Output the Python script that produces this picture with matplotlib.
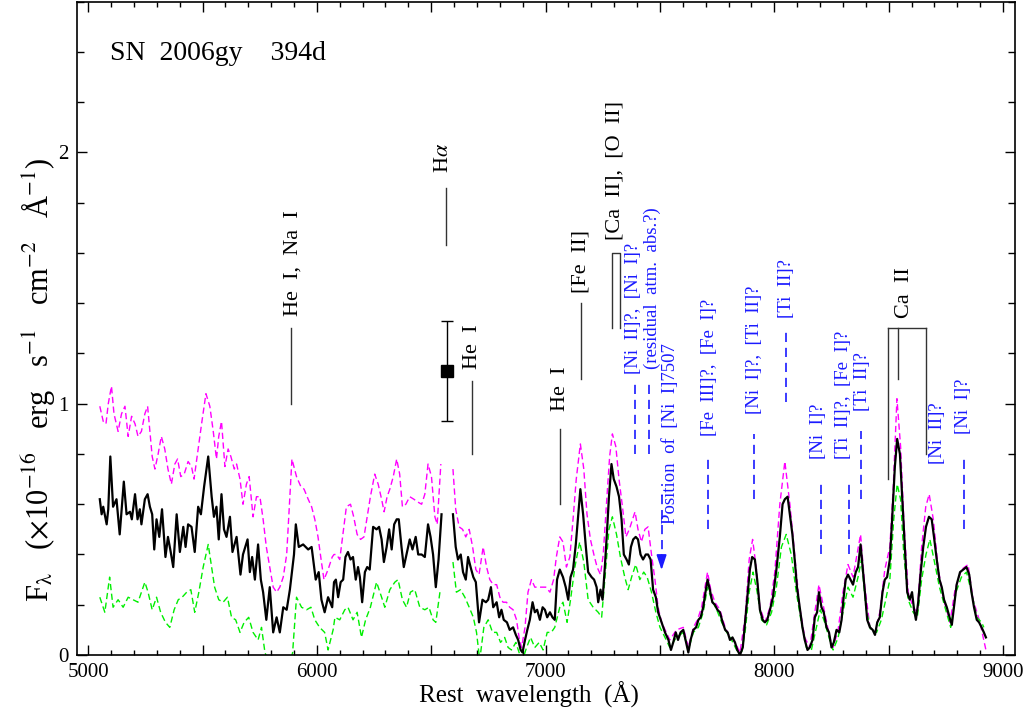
import numpy as np
import matplotlib
matplotlib.use("Agg")
import matplotlib.pyplot as plt
from matplotlib.ticker import MultipleLocator, FuncFormatter

plt.rcParams['font.family'] = ['Liberation Serif', 'DejaVu Serif']
plt.rcParams['mathtext.fontset'] = 'stix'

nan = np.nan

# ---------------- data: observed spectrum (black) ----------------
wave_obs = [5051, 5059, 5066, 5081, 5088, 5097, 5109, 5124, 5138, 5156, 5168, 5183, 5191, 5205, 5216, 5226,
            5233, 5248, 5260, 5270, 5280, 5289, 5299, 5311, 5323, 5338, 5349, 5361, 5372, 5387, 5401, 5416,
            5426, 5437, 5452, 5466, 5481, 5493, 5507, 5525, 5540, 5550, 5561, 5571, 5583, 5594, 5605, 5620,
            5631, 5649, 5666, 5677, 5697, 5707, 5717, 5729, 5743, 5755, 5765, 5779, 5794, 5809, 5824, 5838,
            5853, 5868, 5882, 5900, 5908, 5921, 5940, 5962, 5977, 5995, 6008, 6020, 6034, 6049, 6067, 6075,
            6083, 6093, 6104, 6115, 6125, 6136, 6147, 6158, 6170, 6180, 6188, 6198, 6210, 6220, 6231, 6246,
            6261, 6272, 6283, 6293, 6305, 6316, 6327, 6338, 6349, 6358, 6370, 6380, 6392, 6406, 6418, 6432,
            6443, 6458, 6472, 6486, 6497, 6508, 6520, 6532, 6545, 6570, 6595, 6607, 6617, 6629, 6639, 6651,
            6661, 6672, 6684, 6695, 6709, 6724, 6739, 6749, 6761, 6771, 6786, 6797, 6807, 6817, 6831, 6843,
            6858, 6870, 6880, 6891, 6899, 6910, 6920, 6931, 6943, 6953, 6963, 6975, 6987, 6997, 7007, 7019,
            7030, 7040, 7050, 7062, 7076, 7088, 7099, 7109, 7120, 7132, 7142, 7152, 7164, 7176, 7186, 7201,
            7212, 7223, 7230, 7240, 7249, 7259, 7269, 7277, 7288, 7298, 7310, 7321, 7332, 7342, 7354, 7364,
            7373, 7383, 7394, 7404, 7415, 7426, 7438, 7448, 7459, 7470, 7482, 7492, 7507, 7522, 7537, 7548,
            7558, 7569, 7579, 7590, 7602, 7614, 7624, 7634, 7646, 7658, 7668, 7678, 7689, 7699, 7708, 7718,
            7729, 7740, 7751, 7762, 7774, 7785, 7796, 7806, 7817, 7828, 7838, 7850, 7862, 7872, 7882, 7893,
            7903, 7915, 7925, 7937, 7949, 7959, 7969, 7981, 7994, 8009, 8024, 8036, 8046, 8058, 8068, 8079,
            8089, 8099, 8111, 8123, 8133, 8145, 8155, 8167, 8177, 8187, 8195, 8206, 8216, 8228, 8239, 8250,
            8260, 8272, 8284, 8294, 8303, 8312, 8322, 8333, 8344, 8356, 8366, 8377, 8385, 8396, 8406, 8418,
            8430, 8440, 8450, 8461, 8473, 8483, 8493, 8505, 8515, 8527, 8537, 8549, 8559, 8571, 8581, 8592,
            8602, 8611, 8619, 8629, 8640, 8651, 8663, 8676, 8688, 8698, 8710, 8722, 8732, 8742, 8754, 8766,
            8776, 8785, 8797, 8812, 8826, 8840, 8852, 8862, 8873, 8885, 8895, 8906, 8916, 8925]
flux_obs = [0.62, 0.56, 0.59, 0.52, 0.58, 0.79, 0.59, 0.62, 0.48, 0.69, 0.56, 0.57, 0.54, 0.64, 0.54, 0.58,
            0.52, 0.62, 0.64, 0.59, 0.56, 0.42, 0.54, 0.47, 0.58, 0.39, 0.47, 0.41, 0.35, 0.56, 0.41, 0.51,
            0.43, 0.52, 0.51, 0.41, 0.59, 0.56, 0.67, 0.79, 0.63, 0.55, 0.59, 0.46, 0.64, 0.50, 0.47, 0.55,
            0.41, 0.47, 0.32, 0.40, 0.46, 0.33, 0.39, 0.30, 0.44, 0.30, 0.25, 0.14, 0.27, 0.09, 0.15, 0.09,
            0.19, 0.18, 0.26, 0.40, 0.52, 0.43, 0.44, 0.42, 0.43, 0.30, 0.33, 0.22, 0.17, 0.23, 0.19, 0.29,
            0.30, 0.23, 0.29, 0.30, 0.39, 0.41, 0.38, 0.39, 0.30, 0.35, 0.31, 0.21, 0.33, 0.35, 0.34, 0.51,
            0.50, 0.51, 0.46, 0.37, 0.43, 0.50, 0.42, 0.52, 0.54, 0.54, 0.43, 0.35, 0.40, 0.46, 0.42, 0.47,
            0.40, 0.40, 0.39, 0.52, 0.47, 0.40, 0.27, 0.38, 0.56, nan, 0.56, 0.43, 0.38, 0.40, 0.33, 0.30,
            0.39, 0.35, 0.31, 0.29, 0.13, 0.22, 0.21, 0.22, 0.27, 0.19, 0.21, 0.15, 0.18, 0.14, 0.13, 0.10,
            0.11, 0.08, 0.06, 0.02, 0.01, 0.06, 0.10, 0.14, 0.21, 0.17, 0.18, 0.14, 0.19, 0.18, 0.15, 0.17,
            0.15, 0.14, 0.30, 0.34, 0.31, 0.27, 0.22, 0.31, 0.34, 0.44, 0.55, 0.66, 0.56, 0.43, 0.33, 0.31,
            0.30, 0.27, 0.21, 0.26, 0.22, 0.35, 0.50, 0.63, 0.76, 0.70, 0.67, 0.63, 0.54, 0.40, 0.38, 0.36,
            0.43, 0.46, 0.47, 0.46, 0.40, 0.38, 0.40, 0.40, 0.38, 0.26, 0.23, 0.17, 0.13, 0.09, 0.06, 0.02,
            0.05, 0.09, 0.06, 0.09, 0.10, 0.05, 0.01, 0.06, 0.10, 0.11, 0.14, 0.15, 0.19, 0.25, 0.30, 0.26,
            0.21, 0.20, 0.18, 0.17, 0.13, 0.10, 0.09, 0.06, 0.07, 0.05, 0.02, 0.00, 0.03, 0.13, 0.23, 0.34,
            0.39, 0.38, 0.30, 0.18, 0.14, 0.13, 0.14, 0.18, 0.23, 0.34, 0.47, 0.60, 0.62, 0.63, 0.56, 0.48,
            0.38, 0.27, 0.19, 0.11, 0.06, 0.02, 0.03, 0.06, 0.15, 0.17, 0.25, 0.19, 0.17, 0.11, 0.09, 0.03,
            0.05, 0.10, 0.09, 0.14, 0.23, 0.30, 0.32, 0.30, 0.28, 0.33, 0.35, 0.44, 0.36, 0.25, 0.14, 0.11,
            0.10, 0.08, 0.13, 0.15, 0.25, 0.30, 0.31, 0.38, 0.54, 0.75, 0.86, 0.80, 0.63, 0.43, 0.25, 0.22,
            0.25, 0.18, 0.14, 0.21, 0.33, 0.43, 0.51, 0.55, 0.54, 0.47, 0.38, 0.30, 0.27, 0.22, 0.19, 0.15,
            0.12, 0.19, 0.28, 0.33, 0.34, 0.35, 0.32, 0.25, 0.19, 0.14, 0.13, 0.11, 0.09, 0.07]

# ---------------- upper (magenta) curve ----------------
wave_hi = [5051, 5066, 5078, 5088, 5102, 5113, 5131, 5146, 5161, 5175, 5190, 5205, 5218, 5233, 5248, 5260,
           5270, 5280, 5292, 5306, 5320, 5335, 5349, 5364, 5379, 5391, 5405, 5420, 5437, 5452, 5463, 5478,
           5496, 5515, 5532, 5547, 5561, 5571, 5583, 5598, 5612, 5624, 5639, 5649, 5664, 5677, 5692, 5704,
           5721, 5736, 5751, 5765, 5779, 5794, 5809, 5824, 5838, 5853, 5868, 5882, 5891, 5911, 5930, 5944,
           5962, 5977, 5991, 6005, 6020, 6031, 6049, 6067, 6075, 6086, 6100, 6114, 6129, 6147, 6161, 6176,
           6191, 6206, 6220, 6234, 6253, 6268, 6283, 6294, 6307, 6319, 6334, 6349, 6362, 6374, 6389, 6406,
           6424, 6439, 6458, 6472, 6486, 6501, 6516, 6526, 6542, 6570, 6595, 6607, 6622, 6637, 6651, 6666,
           6681, 6695, 6709, 6727, 6742, 6756, 6771, 6786, 6800, 6814, 6829, 6843, 6858, 6873, 6884, 6895,
           6910, 6923, 6938, 6953, 6967, 6982, 7001, 7019, 7035, 7047, 7062, 7076, 7091, 7106, 7120, 7134,
           7152, 7167, 7181, 7196, 7211, 7225, 7240, 7252, 7266, 7280, 7292, 7307, 7321, 7336, 7351, 7366,
           7380, 7391, 7404, 7419, 7434, 7448, 7463, 7478, 7492, 7507, 7543, 7572, 7602, 7624, 7646, 7664,
           7682, 7697, 7708, 7722, 7740, 7762, 7785, 7806, 7828, 7850, 7872, 7890, 7905, 7922, 7937, 7959,
           7981, 8002, 8024, 8046, 8068, 8089, 8111, 8133, 8155, 8177, 8195, 8220, 8242, 8257, 8279, 8300,
           8322, 8344, 8377, 8396, 8418, 8440, 8461, 8483, 8505, 8520, 8536, 8552, 8566, 8585, 8607, 8625,
           8644, 8662, 8677, 8695, 8717, 8738, 8768, 8790, 8818, 8847, 8869, 8899, 8925]
flux_hi = [0.99, 0.93, 0.92, 1.00, 1.07, 0.96, 0.89, 0.96, 0.99, 0.87, 0.95, 0.92, 0.87, 0.89, 0.96, 0.99,
           0.89, 0.79, 0.74, 0.80, 0.87, 0.82, 0.74, 0.68, 0.76, 0.78, 0.71, 0.72, 0.77, 0.75, 0.70, 0.80,
           0.92, 1.04, 0.99, 0.89, 0.78, 0.87, 0.93, 0.75, 0.82, 0.79, 0.74, 0.76, 0.70, 0.60, 0.68, 0.71,
           0.55, 0.63, 0.63, 0.54, 0.43, 0.35, 0.27, 0.25, 0.27, 0.31, 0.40, 0.63, 0.78, 0.71, 0.67, 0.66,
           0.62, 0.59, 0.54, 0.47, 0.37, 0.30, 0.34, 0.39, 0.40, 0.40, 0.38, 0.48, 0.59, 0.60, 0.55, 0.48,
           0.46, 0.47, 0.55, 0.63, 0.72, 0.68, 0.62, 0.57, 0.63, 0.66, 0.71, 0.78, 0.72, 0.59, 0.60, 0.63,
           0.62, 0.61, 0.60, 0.64, 0.76, 0.71, 0.55, 0.52, 0.76, nan, 0.74, 0.58, 0.51, 0.50, 0.47, 0.50,
           0.43, 0.34, 0.32, 0.43, 0.35, 0.30, 0.28, 0.28, 0.23, 0.21, 0.21, 0.19, 0.18, 0.14, 0.07, 0.03,
           0.11, 0.25, 0.30, 0.27, 0.27, 0.27, 0.27, 0.25, 0.30, 0.39, 0.47, 0.45, 0.35, 0.39, 0.54, 0.70,
           0.84, 0.74, 0.56, 0.46, 0.40, 0.35, 0.32, 0.40, 0.60, 0.79, 0.88, 0.83, 0.70, 0.59, 0.47, 0.50,
           0.54, 0.57, 0.50, 0.45, 0.50, 0.51, 0.40, 0.30, 0.19, 0.13, 0.06, 0.10, 0.11, 0.03, 0.11, 0.14,
           0.19, 0.27, 0.33, 0.26, 0.21, 0.18, 0.11, 0.07, 0.05, 0.01, 0.15, 0.38, 0.46, 0.34, 0.19, 0.13,
           0.19, 0.33, 0.60, 0.77, 0.60, 0.40, 0.19, 0.07, 0.03, 0.17, 0.28, 0.17, 0.07, 0.03, 0.10, 0.25,
           0.36, 0.31, 0.48, 0.27, 0.11, 0.09, 0.17, 0.34, 0.43, 0.67, 1.02, 0.83, 0.54, 0.25, 0.19, 0.17,
           0.43, 0.59, 0.64, 0.54, 0.34, 0.23, 0.13, 0.26, 0.34, 0.36, 0.22, 0.13, 0.02]

# ---------------- lower (green) curve ----------------
wave_lo = [5051, 5073, 5094, 5109, 5131, 5153, 5175, 5196, 5218, 5233, 5248, 5262, 5280, 5299, 5317, 5338,
           5357, 5376, 5394, 5411, 5431, 5449, 5466, 5484, 5503, 5525, 5540, 5553, 5571, 5590, 5609, 5627,
           5645, 5664, 5682, 5702, 5721, 5743, 5758, 5773, 5799, 5849, 5884, 5894, 5911, 5933, 5955, 5974,
           5991, 6012, 6034, 6049, 6071, 6079, 6100, 6122, 6136, 6158, 6176, 6195, 6213, 6234, 6261, 6283,
           6297, 6319, 6341, 6355, 6374, 6392, 6409, 6428, 6450, 6472, 6490, 6508, 6520, 6538, 6570, 6595,
           6610, 6628, 6647, 6666, 6684, 6698, 6712, 6730, 6749, 6768, 6786, 6803, 6821, 6836, 6851, 6870,
           6884, 6899, 6917, 6934, 6953, 6972, 6989, 7007, 7025, 7040, 7062, 7076, 7094, 7109, 7128, 7149,
           7167, 7186, 7208, 7230, 7245, 7259, 7277, 7292, 7310, 7327, 7346, 7361, 7376, 7394, 7412, 7429,
           7444, 7463, 7482, 7500, 7522, 7543, 7572, 7602, 7624, 7646, 7668, 7689, 7708, 7726, 7748, 7770,
           7792, 7813, 7835, 7853, 7872, 7890, 7907, 7925, 7944, 7966, 7988, 8009, 8031, 8052, 8074, 8096,
           8118, 8140, 8162, 8184, 8201, 8220, 8242, 8257, 8279, 8300, 8322, 8344, 8366, 8381, 8400, 8421,
           8447, 8468, 8487, 8505, 8522, 8537, 8552, 8566, 8585, 8607, 8625, 8644, 8663, 8680, 8698, 8722,
           8746, 8771, 8794, 8818, 8840, 8862, 8885, 8906, 8916]
flux_lo = [0.23, 0.17, 0.31, 0.19, 0.22, 0.19, 0.23, 0.22, 0.21, 0.25, 0.29, 0.25, 0.18, 0.23, 0.17, 0.13,
           0.11, 0.18, 0.22, 0.23, 0.25, 0.26, 0.17, 0.25, 0.35, 0.44, 0.35, 0.27, 0.22, 0.21, 0.23, 0.15,
           0.14, 0.09, 0.13, 0.15, 0.09, 0.06, 0.11, 0.01, -0.05, -0.08, -0.03, 0.01, 0.23, 0.19, 0.18, 0.19,
           0.14, 0.11, 0.09, 0.02, 0.10, 0.15, 0.14, 0.18, 0.19, 0.14, 0.17, 0.07, 0.14, 0.19, 0.29, 0.23,
           0.19, 0.26, 0.29, 0.30, 0.22, 0.19, 0.25, 0.26, 0.19, 0.18, 0.19, 0.14, 0.13, 0.25, nan, 0.37,
           0.25, 0.26, 0.23, 0.19, 0.15, 0.09, -0.02, 0.11, 0.14, 0.09, 0.09, 0.05, 0.07, 0.03, 0.02, 0.05,
           0.01, -0.02, 0.03, 0.07, 0.03, 0.05, 0.02, 0.09, 0.09, 0.11, 0.19, 0.21, 0.13, 0.22, 0.35, 0.45,
           0.37, 0.22, 0.19, 0.17, 0.15, 0.30, 0.50, 0.55, 0.48, 0.39, 0.31, 0.26, 0.31, 0.36, 0.30, 0.33,
           0.31, 0.25, 0.17, 0.11, 0.07, 0.03, 0.07, 0.09, 0.02, 0.09, 0.11, 0.17, 0.27, 0.22, 0.18, 0.13,
           0.09, 0.06, 0.02, -0.01, 0.09, 0.25, 0.33, 0.25, 0.14, 0.12, 0.17, 0.27, 0.43, 0.48, 0.40, 0.25,
           0.13, 0.03, 0.02, 0.11, 0.18, 0.13, 0.06, 0.02, 0.07, 0.17, 0.27, 0.23, 0.31, 0.38, 0.19, 0.10,
           0.09, 0.14, 0.22, 0.30, 0.54, 0.68, 0.62, 0.40, 0.22, 0.17, 0.15, 0.30, 0.40, 0.46, 0.38, 0.27,
           0.19, 0.11, 0.25, 0.31, 0.33, 0.25, 0.15, 0.13, 0.11]

# ---------------- H-alpha measurement with error bar ----------------
ha_wave = [6570]
ha_flux = [1.13]
ha_err = [0.20]

# ---------------- black line identifications ----------------
id_labels = ['He  I,  Na  I', r'H$\alpha$', 'He  I', 'He  I', '[Fe  II]']
id_wave = [5886, 6563, 6678, 7065, 7155]
id_ybot = [1.00, 1.63, 0.80, 0.60, 1.10]
id_ytop = [1.30, 1.86, 1.09, 0.90, 1.40]
id_text_wave = [5895, 6554, 6680, 7064, 7154]
id_text_y = [1.35, 1.92, 1.14, 0.97, 1.44]

caoii_label = '[Ca  II],  [O  II]'
caoii_wave = [7291, 7324]
caoii_ybot = 1.30
caoii_ytop = 1.60
caoii_text = (7305, 1.65)

ca2_label = 'Ca  II'
ca2_wave = [8498, 8542, 8662]
ca2_ybot = [0.70, 1.10, 0.80]
ca2_ytop = 1.30
ca2_text = (8568, 1.34)

# ---------------- blue (tentative) identifications ----------------
blue_wave = [7390, 7450, 7712, 7911, 8050, 8202, 8327, 8378, 8830]
blue_ybot = [0.80, 0.80, 0.50, 0.62, 1.005, 0.40, 0.40, 0.62, 0.50]
blue_ytop = [1.10, 1.10, 0.79, 0.88, 1.30, 0.70, 0.70, 0.89, 0.80]

blue_labels = ['[Ni  II]?,  [Ni  I]?', '(residual  atm.  abs.?)', '[Fe  III]?,  [Fe  I]?',
               '[Ni  I]?,  [Ti  II]?', '[Ti  II]?', '[Ni  I]?', '[Ti  II]?,  [Fe  I]?', '[Ti  II]?',
               '[Ni  II]?', '[Ni  I]?']
blue_text_wave = [7386, 7466, 7718, 7915, 8054, 8194, 8303, 8387, 8713, 8828]
blue_text_y = [1.12, 1.14, 0.87, 0.96, 1.34, 0.78, 0.78, 0.97, 0.76, 0.88]

nii_label = 'Position  of  [Ni  I]7507'
nii_wave = 7507
nii_ytop = 0.636
nii_ytip = 0.338
nii_text = (7547, 0.52)

# ---------------- figure ----------------
fig = plt.figure(figsize=(10.31, 7.19), dpi=100)
ax = fig.add_axes([76.7 / 1031, 1 - 655 / 719, (1014.5 - 76.7) / 1031, (655 - 1.7) / 719])

ax.plot(wave_hi, flux_hi, color='#ff00ff', lw=1.0, dashes=(4.5, 2.5))
ax.plot(wave_lo, flux_lo, color='#00ee00', lw=1.0, dashes=(4.5, 2.5))
ax.plot(wave_obs, flux_obs, color='black', lw=1.6)

ax.errorbar(ha_wave, ha_flux, yerr=ha_err, fmt='s', color='black', ms=8, capsize=4, lw=1.0, capthick=1.0)

line_col = '#333333'
for w, yb, yt, lab, tw, ty in zip(id_wave, id_ybot, id_ytop, id_labels, id_text_wave, id_text_y):
    ax.plot([w, w], [yb, yt], color=line_col, lw=1.0)
    ax.text(tw, ty, lab, rotation=90, ha='center', va='bottom', fontsize=16)

ax.plot([caoii_wave[0], caoii_wave[0], caoii_wave[1], caoii_wave[1]],
        [caoii_ybot, caoii_ytop, caoii_ytop, caoii_ybot], color=line_col, lw=1.0)
ax.text(caoii_text[0], caoii_text[1], caoii_label, rotation=90, ha='center', va='bottom', fontsize=16)

ax.plot([ca2_wave[0], ca2_wave[2]], [ca2_ytop, ca2_ytop], color=line_col, lw=1.0)
for w, yb in zip(ca2_wave, ca2_ybot):
    ax.plot([w, w], [yb, ca2_ytop], color=line_col, lw=1.0)
ax.text(ca2_text[0], ca2_text[1], ca2_label, rotation=90, ha='center', va='bottom', fontsize=16)

blue = '#1a1aff'
for w, yb, yt in zip(blue_wave, blue_ybot, blue_ytop):
    ax.plot([w, w], [yb, yt], color=blue, lw=1.2, dashes=(5.5, 3.5))
for lab, tw, ty in zip(blue_labels, blue_text_wave, blue_text_y):
    ax.text(tw, ty, lab, rotation=90, ha='center', va='bottom', fontsize=13.5, color=blue)

ax.plot([nii_wave, nii_wave], [nii_ytop, nii_ytip + 0.04], color=blue, lw=1.2, dashes=(5.5, 3.5))
ax.annotate('', xy=(nii_wave, nii_ytip), xytext=(nii_wave, nii_ytip + 0.06),
            arrowprops=dict(arrowstyle='-|>,head_length=0.9,head_width=0.3', color=blue, lw=1.2,
                            shrinkA=0, shrinkB=0))
ax.text(nii_text[0], nii_text[1], nii_label, rotation=90, ha='center', va='bottom', fontsize=13.5, color=blue)

ax.text(0.0355, 0.911, 'SN  2006gy    394d', transform=ax.transAxes, fontsize=20, ha='left', va='baseline')

# ---------------- axes ----------------
ax.set_xlim(4950, 9050)
ax.set_ylim(0, 2.6)
ax.xaxis.set_major_locator(MultipleLocator(500))
ax.xaxis.set_minor_locator(MultipleLocator(100))
ax.xaxis.set_major_formatter(FuncFormatter(lambda v, p: f'{int(v)}' if int(v) % 1000 == 0 else ''))
ax.yaxis.set_major_locator(MultipleLocator(1))
ax.yaxis.set_minor_locator(MultipleLocator(0.2))
ax.yaxis.set_major_formatter(FuncFormatter(lambda v, p: f'{int(round(v))}'))
ax.tick_params(which='both', direction='in', top=True, right=True, labelsize=15, width=1.0)
ax.tick_params(axis='x', which='major', length=7.5, pad=6)
ax.tick_params(axis='x', which='minor', length=3.8)
ax.tick_params(axis='y', which='major', length=7.5, pad=6)
ax.tick_params(axis='y', which='minor', length=4.8)
for s in ax.spines.values():
    s.set_linewidth(1.2)

fig.text(529 / 1031, 1 - 695 / 719, 'Rest  wavelength  (Å)', ha='center', va='center', fontsize=18)
fig.text(38 / 1031, 1 - 380 / 719,
         r'F$_{\mathrm{\lambda}}$   ($\times$10$^{-16}$   erg   s$^{-1}$   cm$^{-2}$   Å$^{-1}$)',
         rotation=90, ha='center', va='center', fontsize=22)

fig.savefig('out.png', dpi=100)
